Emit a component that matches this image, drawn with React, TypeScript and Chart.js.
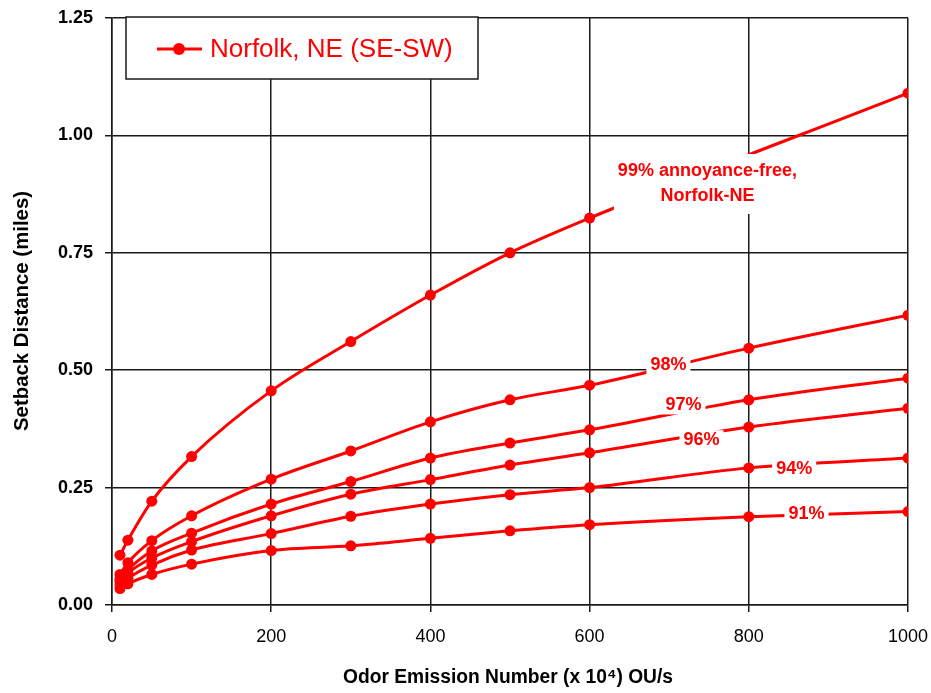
import React, { useEffect, useRef } from "react";
import { Chart, registerables } from "chart.js";

Chart.register(...registerables);

const emissionNumbers = [10, 20, 50, 100, 200, 300, 400, 500, 600, 800, 1000];
const free99 = [0.106, 0.138, 0.221, 0.316, 0.456, 0.561, 0.66, 0.75, 0.824, null, 1.09];
const free98 = [0.065, 0.09, 0.137, 0.19, 0.268, 0.328, 0.39, 0.437, 0.468, 0.547, 0.617];
const free97 = [0.055, 0.075, 0.115, 0.153, 0.215, 0.263, 0.313, 0.345, 0.373, 0.437, 0.483];
const free96 = [0.05, 0.068, 0.1, 0.135, 0.19, 0.236, 0.267, 0.298, 0.324, 0.379, 0.419];
const free94 = [0.043, 0.057, 0.085, 0.117, 0.152, 0.189, 0.215, 0.235, 0.25, 0.292, 0.313];
const free91 = [0.035, 0.045, 0.065, 0.087, 0.116, 0.126, 0.142, 0.158, 0.171, 0.188, 0.199];

const seriesList = [free99, free98, free97, free96, free94, free91];
const legendText = "Norfolk, NE (SE-SW)";
const xTitle = "Odor Emission Number (x 10\u2074) OU/s";
const yTitle = "Setback Distance (miles)";

// label: text lines, anchor in data coords (x, y)
const curveLabels = [
  { lines: ["99% annoyance-free,", "Norfolk-NE"], x: 748, y: 0.8965 },
  { lines: ["98%"], x: 699, y: 0.511 },
  { lines: ["97%"], x: 718, y: 0.426 },
  { lines: ["96%"], x: 740.6, y: 0.352 },
  { lines: ["94%"], x: 857, y: 0.29 },
  { lines: ["91%"], x: 872.5, y: 0.193 },
];

const RED = "#ff0000";

const overlayPlugin = {
  id: "overlay",
  afterDatasetsDraw(chart: any) {
    const ctx = chart.ctx;
    const xs = chart.scales.x;
    const ys = chart.scales.y;
    ctx.save();
    // curve labels
    ctx.font = "bold 18px 'Liberation Sans', Arial, sans-serif";
    ctx.textAlign = "center";
    ctx.textBaseline = "middle";
    curveLabels.forEach((lab) => {
      const cx = xs.getPixelForValue(lab.x);
      const cy = ys.getPixelForValue(lab.y);
      const lh = 25;
      const widths = lab.lines.map((l) => ctx.measureText(l).width);
      const w = Math.max(...widths) + 8;
      const h = lab.lines.length * lh + (lab.lines.length > 1 ? 10 : -6);
      const top = cy - h / 2;
      ctx.fillStyle = "#ffffff";
      ctx.fillRect(cx - w / 2, top, w, h);
      ctx.fillStyle = RED;
      lab.lines.forEach((l, i) => {
        const ty = cy - ((lab.lines.length - 1) * lh) / 2 + i * lh;
        ctx.fillText(l, cx, ty);
      });
    });
    // legend
    const lx = 126, ly = 17, lw = 352, lh2 = 62;
    ctx.fillStyle = "#ffffff";
    ctx.fillRect(lx, ly, lw, lh2);
    ctx.strokeStyle = "#1a1a1a";
    ctx.lineWidth = 1.5;
    ctx.strokeRect(lx, ly, lw, lh2);
    ctx.strokeStyle = RED;
    ctx.lineWidth = 3;
    ctx.beginPath();
    ctx.moveTo(157, 49);
    ctx.lineTo(202, 49);
    ctx.stroke();
    ctx.fillStyle = RED;
    ctx.beginPath();
    ctx.arc(179, 49, 6, 0, Math.PI * 2);
    ctx.fill();
    ctx.font = "26px 'Liberation Sans', Arial, sans-serif";
    ctx.textAlign = "left";
    ctx.textBaseline = "middle";
    ctx.fillText(legendText, 210, 50);
    ctx.restore();
  },
  afterDraw(chart: any) {
    const ctx = chart.ctx;
    ctx.save();
    ctx.fillStyle = "#000000";
    ctx.font = "bold 20px 'Liberation Sans', Arial, sans-serif";
    ctx.textAlign = "center";
    ctx.textBaseline = "middle";
    const mw = ctx.measureText(xTitle).width;
    const sx = 330 / mw;
    ctx.save();
    ctx.translate(508, 677);
    ctx.scale(sx, 1);
    ctx.fillText(xTitle, 0, 0);
    ctx.restore();
    const my = ctx.measureText(yTitle).width;
    const sy = 240 / my;
    ctx.save();
    ctx.translate(22, 311);
    ctx.rotate(-Math.PI / 2);
    ctx.scale(sy, 1);
    ctx.fillText(yTitle, 0, 0);
    ctx.restore();
    ctx.restore();
  },
};

export default function App() {
  const canvasRef = useRef<HTMLCanvasElement | null>(null);
  useEffect(() => {
    if (!canvasRef.current) return;
    const datasets = seriesList.map((s, idx) => ({
      label: "series" + idx,
      data: emissionNumbers.map((x, i) => ({ x, y: s[i] })),
      borderColor: RED,
      backgroundColor: RED,
      pointBackgroundColor: RED,
      pointBorderColor: RED,
      borderWidth: 3,
      pointRadius: 5.5,
      pointBorderWidth: 0,
      spanGaps: true,
      cubicInterpolationMode: "monotone" as const,
      fill: false,
    }));
    const chart = new Chart(canvasRef.current, {
      type: "line",
      data: { datasets },
      options: {
        animation: false,
        responsive: false,
        maintainAspectRatio: false,
        layout: { padding: { left: 0, top: 18, right: 23, bottom: 0 } },
        plugins: { legend: { display: false }, tooltip: { enabled: false } },
        scales: {
          x: {
            type: "linear",
            min: 0,
            max: 1000,
            afterFit: (s: any) => {
              s.height = 88;
              s.paddingLeft = 0;
              s.paddingRight = 0;
            },
            ticks: {
              stepSize: 200,
              color: "#000",
              padding: 14,
              font: { family: "'Liberation Sans', Arial, sans-serif", size: 18 },
              maxRotation: 0,
              callback: (v: any) => String(v),
            },
            grid: { color: "#1a1a1a", lineWidth: 1.5, tickLength: 7, tickColor: "#1a1a1a" },
            border: { color: "#1a1a1a", width: 1.5 },
          },
          y: {
            type: "linear",
            min: 0,
            max: 1.25,
            afterFit: (s: any) => {
              s.width = 112;
              s.paddingTop = 0;
              s.paddingBottom = 0;
            },
            ticks: {
              stepSize: 0.25,
              color: "#000",
              padding: 12,
              font: { family: "'Liberation Sans', Arial, sans-serif", size: 18, weight: "bold" },
              callback: (v: any) => Number(v).toFixed(2),
            },
            grid: { color: "#1a1a1a", lineWidth: 1.5, tickLength: 7, tickColor: "#1a1a1a" },
            border: { color: "#1a1a1a", width: 1.5 },
          },
        },
      },
      plugins: [overlayPlugin],
    });
    return () => chart.destroy();
  }, []);
  return (
    <div style={{ position: "fixed", left: 0, top: 0, width: 931, height: 693, background: "#fff" }}>
      <canvas ref={canvasRef} width={931} height={693} style={{ width: 931, height: 693 }} />
    </div>
  );
}
